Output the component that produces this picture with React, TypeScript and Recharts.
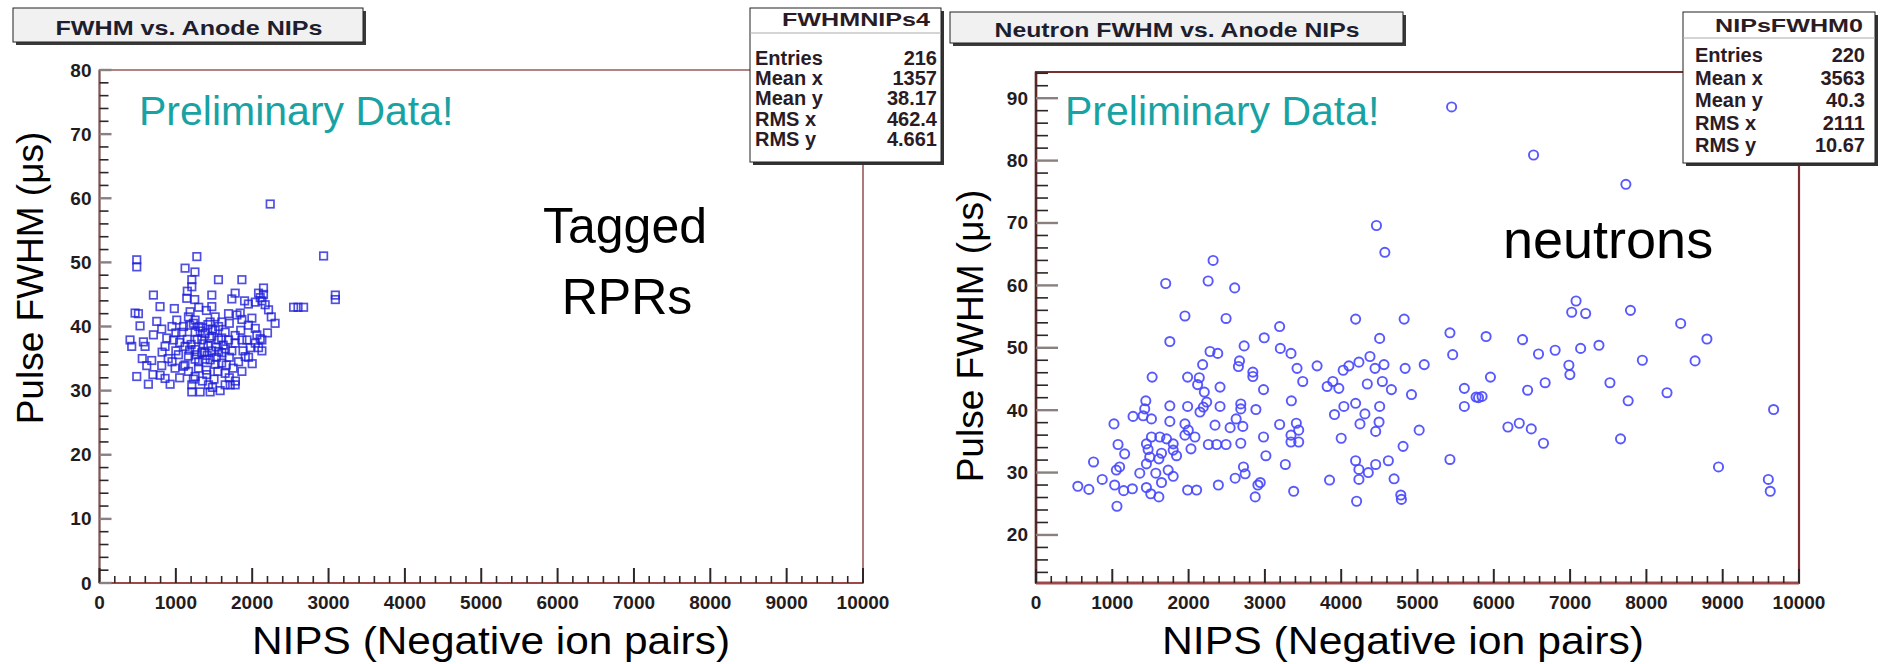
import React from "react";
import { ScatterChart, Scatter, XAxis, YAxis, ReferenceArea } from "recharts";

const FONT = "'Liberation Sans', Arial, Helvetica, sans-serif";

// NIPS vs pulse FWHM, tagged RPR events (left panel)
const rprHits: [number, number][] = [
  [2236, 59.1], [2935, 51.0], [3089, 44.9], [3089, 44.2], [2542, 43.0], [2600, 43.0], [2673, 43.0],
  [488, 50.4], [488, 49.3], [1275, 50.9], [1121, 49.1], [1209, 47.3], [1209, 46.2], [1558, 47.3],
  [1865, 47.3], [2148, 46.0], [2148, 45.0], [2105, 44.5], [2127, 44.0], [2170, 43.4], [2214, 42.6],
  [706, 44.9], [793, 43.1], [466, 42.1], [510, 42.0], [531, 40.1], [750, 40.8], [815, 39.6],
  [1143, 44.4], [1247, 44.2], [1471, 44.9], [1777, 45.2], [1733, 44.3], [2083, 45.2], [2040, 43.8],
  [1471, 43.1], [1843, 42.1], [1865, 41.1], [1187, 42.3], [1012, 41.0], [1996, 41.3], [2040, 39.7],
  [2061, 38.7], [2105, 38.1], [2127, 37.9], [2083, 36.7], [1952, 35.2], [1865, 33.0], [1646, 32.7],
  [1646, 30.9], [1777, 30.9], [1712, 30.9], [1427, 30.9], [1209, 30.9], [1209, 29.8], [1318, 29.8],
  [1449, 29.8], [1580, 30.0], [925, 31.0], [859, 31.9], [794, 32.4], [640, 31.0], [488, 32.2],
  [619, 33.9], [684, 34.7], [815, 33.9], [859, 36.9], [881, 38.2], [969, 37.9], [1034, 35.6],
  [1100, 33.8], [990, 33.5], [400, 37.9], [575, 37.6], [422, 36.9], [597, 36.9], [706, 38.7],
  [1121, 36.9], [1252, 36.4], [1340, 35.9], [1384, 34.9], [1252, 34.9], [1165, 35.4], [1340, 37.9],
  [1471, 38.5], [1558, 37.9], [1690, 37.9], [1777, 37.4], [1865, 37.9], [1733, 36.2], [1602, 35.9],
  [1471, 36.2], [1515, 34.1], [1296, 33.5], [1165, 33.0], [1252, 32.2], [1405, 32.5], [1078, 39.1],
  [1252, 39.1], [1384, 38.9], [1515, 39.4], [1646, 39.1], [1777, 38.6], [1515, 41.5], [1602, 40.7],
  [1690, 42.0], [1449, 40.7], [1252, 41.0], [1165, 41.5], [1909, 35.3], [1821, 34.5], [1931, 37.9],
  [1974, 36.7], [2040, 37.4], [2127, 36.2], [1100, 40.0], [1180, 40.2], [1230, 40.5], [1300, 40.0],
  [1350, 39.8], [1420, 40.3], [1480, 39.6], [1560, 40.0], [1050, 37.5], [1150, 38.0], [1200, 37.2],
  [1280, 38.0], [1420, 37.0], [1530, 36.8], [1650, 36.5], [1700, 35.2], [1380, 36.0], [1300, 34.5],
  [1450, 34.8], [1600, 34.3], [1750, 33.5], [1550, 33.0], [1000, 36.2], [950, 34.5], [1120, 34.0],
  [1400, 33.2], [1700, 32.0], [1500, 31.8], [1350, 31.5], [1050, 32.0], [1600, 38.2], [1850, 39.4],
  [1950, 40.2], [1400, 42.5], [1300, 43.0], [1150, 45.5], [980, 42.8], [900, 35.0], [2300, 40.5],
  [2200, 39.0], [2250, 41.5], [820, 36.0], [1250, 48.5], [1900, 44.0], [700, 32.5], [560, 35.0],
  [1000, 39.0], [1700, 40.5], [1800, 41.8], [1950, 43.5], [1230, 31.8], [1480, 30.5], [1780, 31.5],
  [2000, 34.2], [1880, 36.2], [950, 40.0], [1320, 39.3], [1440, 38.2], [1560, 36.1], [1360, 37.3],
  [1620, 37.1], [1270, 35.6], [1530, 35.2], [1180, 36.3], [1410, 35.5], [1660, 34.0],
];

// NIPS vs pulse FWHM, neutron events (right panel)
const neutronHits: [number, number][] = [
  [5447, 88.6], [6521, 80.9], [7731, 76.2], [4462, 69.6], [4572, 65.3], [2321, 64.0], [1700, 60.3],
  [2256, 60.7], [2604, 59.6], [7078, 57.5], [7021, 55.7], [7204, 55.5], [7791, 56.0], [8449, 53.9],
  [8793, 51.4], [6377, 51.3], [6586, 49.0], [6804, 49.6], [7138, 49.9], [7378, 50.4], [7947, 48.0],
  [8638, 47.9], [6984, 47.2], [6997, 45.7], [6443, 43.2], [6673, 44.4], [7522, 44.4], [7761, 41.5],
  [8270, 42.8], [9667, 40.1], [6185, 37.3], [6334, 37.9], [6491, 37.0], [6651, 34.7], [7661, 35.4],
  [8945, 30.9], [9598, 28.9], [9623, 27.0], [5800, 42.0],
  [1952, 55.1], [2491, 54.7], [1754, 51.0], [3193, 53.4], [2991, 51.6], [2728, 50.3], [3202, 49.9],
  [3342, 49.1], [2281, 49.4], [2382, 49.1], [4189, 54.6], [4825, 54.6], [5425, 52.4], [5899, 51.8],
  [4504, 51.5], [5461, 48.9], [5088, 47.3], [4838, 46.7], [4561, 47.3], [4443, 46.7], [4377, 48.6],
  [4232, 47.7], [4101, 47.1], [4026, 46.4], [3684, 47.1], [3421, 46.7], [3496, 44.6], [2667, 47.9],
  [2653, 47.0], [2184, 47.3], [2842, 46.1], [2842, 45.4], [1987, 45.3], [2140, 45.2], [1522, 45.3],
  [2118, 44.1], [2412, 43.7], [2982, 43.3], [2206, 42.9], [2237, 41.3], [2193, 40.5], [2149, 39.7],
  [1439, 41.5], [1425, 40.2], [1404, 39.1], [1272, 39.0], [1513, 38.6], [1754, 40.7], [1987, 40.6],
  [2412, 40.6], [2684, 41.0], [2684, 40.2], [2882, 40.1], [3347, 41.5], [3816, 43.8], [3890, 44.6],
  [3969, 43.5], [4342, 44.2], [4539, 44.6], [4658, 43.3], [4921, 42.5], [5614, 43.5], [5768, 42.1],
  [5846, 42.2], [5956, 45.3], [5614, 40.6], [4035, 40.6], [4189, 41.1], [3912, 39.3], [4311, 39.4],
  [4504, 40.6], [4246, 37.8], [4496, 38.1], [4452, 36.6], [5022, 36.8], [4000, 35.5], [4811, 34.2],
  [5425, 32.1], [4618, 31.9], [4452, 31.3], [4189, 31.9], [4232, 30.5], [4355, 30.0], [4232, 28.9],
  [4693, 29.0], [3847, 28.8], [4202, 25.4], [4781, 26.4], [4789, 25.7], [3377, 27.0], [2873, 26.1],
  [2939, 28.4], [2908, 28.0], [2719, 30.9], [2741, 29.8], [2610, 29.1], [2390, 28.0], [2105, 27.2],
  [1987, 27.2], [1610, 26.1], [1504, 26.6], [1447, 27.6], [1263, 27.4], [1149, 27.1], [1031, 28.0],
  [868, 28.9], [693, 27.3], [548, 27.8], [1061, 24.6], [754, 31.7], [1053, 30.4], [1096, 30.9],
  [1360, 29.9], [1570, 29.9], [1645, 28.4], [1798, 29.4], [1732, 30.4], [1610, 32.2], [1491, 32.5],
  [1447, 31.4], [1469, 33.7], [1447, 34.6], [1513, 35.7], [1623, 35.7], [1711, 35.4], [1798, 34.6],
  [1798, 33.6], [1842, 32.7], [1645, 33.1], [1075, 34.5], [1162, 33.0], [1022, 37.8], [1754, 38.2],
  [1952, 37.8], [1996, 36.8], [1952, 36.0], [2083, 35.7], [2031, 33.8], [2259, 34.5], [2368, 34.5],
  [2491, 34.5], [2684, 34.7], [2346, 37.6], [2544, 37.2], [2623, 38.6], [2711, 37.4], [2982, 35.7],
  [3013, 32.7], [3193, 37.7], [3268, 31.3], [3412, 37.9], [3443, 36.8], [3342, 36.0], [3342, 34.9],
  [3443, 34.9],
];

const rprStats = [
  ["Entries", "216"], ["Mean x", "1357"], ["Mean y", "38.17"], ["RMS x", "462.4"], ["RMS y", "4.661"],
];
const neutronStats = [
  ["Entries", "220"], ["Mean x", "3563"], ["Mean y", "40.3"], ["RMS x", "2111"], ["RMS y", "10.67"],
];

const nipsTicks = Array.from({ length: 51 }, (_, i) => i * 200);
const rprFwhmTicks = Array.from({ length: 41 }, (_, i) => i * 2);
const neutronFwhmTicks = Array.from({ length: 41 }, (_, i) => 14 + i * 2);

const toRows = (pts: [number, number][]) => pts.map(([x, y]) => ({ x, y }));

const tickText = { fontFamily: FONT, fontWeight: 700, fontSize: 19, fill: "#241c1c" };

const xTick = (majLen: number, minLen: number) => (props: any) => {
  const { x, y, payload } = props;
  const major = payload.value % 1000 === 0;
  return (
    <g>
      <line x1={x} y1={y} x2={x} y2={y - (major ? majLen : minLen)} stroke="#2e2626" strokeWidth={major ? 2 : 1.6} />
      {major && (
        <text x={x} y={y + 19} textAnchor="middle" dominantBaseline="central" {...tickText}>
          {payload.value}
        </text>
      )}
    </g>
  );
};

const yTick = (majLen: number, minLen: number) => (props: any) => {
  const { x, y, payload } = props;
  const major = payload.value % 10 === 0;
  return (
    <g>
      <line x1={x} y1={y} x2={x + (major ? majLen : minLen)} y2={y} stroke={major ? "#8a8080" : "#2e2626"} strokeWidth={major ? 2.4 : 1.6} />
      {major && (
        <text x={x - 8} y={y} textAnchor="end" dominantBaseline="central" {...tickText}>
          {payload.value}
        </text>
      )}
    </g>
  );
};

const square = (p: any) => (
  <rect x={p.cx - 3.75} y={p.cy - 3.75} width={7.5} height={7.5} fill="none" stroke="#1e1ed8" strokeOpacity={0.78} strokeWidth={1.7} />
);
const ring = (p: any) => (
  <circle cx={p.cx} cy={p.cy} r={4.6} fill="none" stroke="#4646ff" strokeOpacity={0.9} strokeWidth={1.9} />
);

const StatBox = ({ x, y, w, h, name, rows, headBase, sepY, rowBase, rowStep, padL, padR, headX }: any) => (
  <g fontFamily={FONT} fontWeight={700} fill="#2b1b24">
    <rect x={x + 3} y={y + 3} width={w} height={h} fill="#333" />
    <rect x={x} y={y} width={w} height={h} fill="#fff" stroke="#222" strokeWidth={1} />
    <line x1={x} x2={x + w} y1={sepY} y2={sepY} stroke="#aaa" strokeWidth={1} />
    <text x={headX} y={headBase} textAnchor="middle" fontSize={19} textLength={148} lengthAdjust="spacingAndGlyphs">
      {name}
    </text>
    {rows.map((r: string[], i: number) => (
      <g key={r[0]}>
        <text x={x + padL} y={rowBase + i * rowStep} fontSize={20}>{r[0]}</text>
        <text x={x + w - padR} y={rowBase + i * rowStep} fontSize={20} textAnchor="end">{r[1]}</text>
      </g>
    ))}
  </g>
);

const TitleBox = ({ x, y, w, h, text, cx, base, len }: any) => (
  <g>
    <rect x={x + 3} y={y + 3} width={w} height={h} fill="#3a3a3a" />
    <rect x={x} y={y} width={w} height={h} fill="#f1f1f1" stroke="#222" strokeWidth={1} />
    <text x={cx} y={base} textAnchor="middle" fontFamily={FONT} fontWeight={700} fontSize={21} fill="#1e1e2e" textLength={len} lengthAdjust="spacingAndGlyphs">
      {text}
    </text>
  </g>
);

export default function App() {
  return (
    <div style={{ position: "absolute", left: 0, top: 0, width: 1883, height: 664, background: "#fff", overflow: "hidden" }}>
      <div style={{ position: "absolute", left: 0, top: 0 }}>
        <ScatterChart width={900} height={664} margin={{ top: 70, right: 37, bottom: 51, left: 59.5 }}>
          <ReferenceArea x1={0} x2={10000} y1={0} y2={80} fill="none" stroke="#9a5a5a" strokeWidth={1.6} />
          <XAxis type="number" dataKey="x" domain={[0, 10000]} allowDataOverflow ticks={nipsTicks} interval={0}
            height={30} tickSize={0} tickMargin={0} tick={xTick(15, 7)} axisLine={{ stroke: "#a04848", strokeWidth: 2 }} />
          <YAxis type="number" dataKey="y" domain={[0, 80]} allowDataOverflow ticks={rprFwhmTicks} interval={0}
            width={40} tickSize={0} tickMargin={0} tick={yTick(12, 9)} axisLine={{ stroke: "#7a5a5a", strokeWidth: 2 }} />
          <Scatter data={toRows(rprHits)} shape={square} isAnimationActive={false} />
        </ScatterChart>
      </div>
      <div style={{ position: "absolute", left: 920, top: 0 }}>
        <ScatterChart width={963} height={664} margin={{ top: 72, right: 84, bottom: 51, left: 76 }}>
          <ReferenceArea x1={0} x2={10000} y1={12.3} y2={94.2} fill="none" stroke="#7a3030" strokeWidth={2.2} />
          <XAxis type="number" dataKey="x" domain={[0, 10000]} allowDataOverflow ticks={nipsTicks} interval={0}
            height={30} tickSize={0} tickMargin={0} tick={xTick(14, 7)} axisLine={{ stroke: "#a04848", strokeWidth: 3 }} />
          <YAxis type="number" dataKey="y" domain={[12.3, 94.2]} allowDataOverflow ticks={neutronFwhmTicks} interval={0}
            width={40} tickSize={0} tickMargin={0} tick={yTick(22, 12)} axisLine={{ stroke: "#5a2a2a", strokeWidth: 2.5 }} />
          <Scatter data={toRows(neutronHits)} shape={ring} isAnimationActive={false} />
        </ScatterChart>
      </div>
      <svg width={1883} height={664} style={{ position: "absolute", left: 0, top: 0, pointerEvents: "none" }}>
        <TitleBox x={13} y={8} w={350} h={34} text="FWHM vs. Anode NIPs" cx={189} base={35} len={267} />
        <TitleBox x={950} y={12} w={453} h={31} text="Neutron FWHM vs. Anode NIPs" cx={1177} base={37} len={365} />
        <StatBox x={750} y={8} w={191} h={154} name="FWHMNIPs4" rows={rprStats} headBase={26} sepY={33}
          rowBase={65} rowStep={20.2} padL={5} padR={4} headX={856} />
        <StatBox x={1683} y={12} w={192} h={151} name="NIPsFWHM0" rows={neutronStats} headBase={32} sepY={38}
          rowBase={62} rowStep={22.6} padL={12} padR={10} headX={1789} />
        <g fontFamily={FONT} fill="#18a2a2" fontSize={41}>
          <text x={139} y={125}>Preliminary Data!</text>
          <text x={1065} y={125}>Preliminary Data!</text>
        </g>
        <g fontFamily={FONT} fill="#000">
          <text x={625} y={243} fontSize={50} textAnchor="middle">Tagged</text>
          <text x={627} y={314} fontSize={50} textAnchor="middle">RPRs</text>
          <text x={1503} y={258} fontSize={54}>neutrons</text>
          <text x={491} y={654} fontSize={38} textAnchor="middle" textLength={478} lengthAdjust="spacingAndGlyphs">
            NIPS (Negative ion pairs)
          </text>
          <text x={1403} y={654} fontSize={38} textAnchor="middle" textLength={482} lengthAdjust="spacingAndGlyphs">
            NIPS (Negative ion pairs)
          </text>
          <text transform="translate(30,278) rotate(-90)" fontSize={37} textAnchor="middle" dominantBaseline="central">
            Pulse FWHM (μs)
          </text>
          <text transform="translate(970,336) rotate(-90)" fontSize={37} textAnchor="middle" dominantBaseline="central">
            Pulse FWHM (μs)
          </text>
        </g>
      </svg>
    </div>
  );
}
